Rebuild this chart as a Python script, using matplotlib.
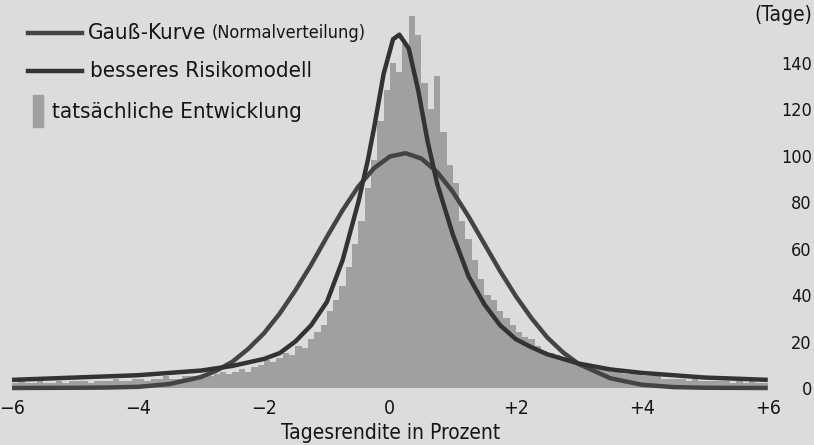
import numpy as np
import matplotlib
matplotlib.use("Agg")
import matplotlib.pyplot as plt
from matplotlib import font_manager as fm
from matplotlib.lines import Line2D
from matplotlib.patches import Rectangle

# narrow sans if there is one
names = {f.name for f in fm.fontManager.ttflist}
condensed = [f for f in fm.fontManager.ttflist
             if f.name == 'DejaVu Sans' and 'Condensed' in f.fname
             and 'Bold' not in f.fname and 'Oblique' not in f.fname]
if 'Liberation Sans Narrow' in names:
    plt.rcParams['font.family'] = ['Liberation Sans Narrow', 'DejaVu Sans']
elif condensed:
    plt.rcParams['font.family'] = ['DejaVu Sans']
    plt.rcParams['font.stretch'] = 'condensed'
else:
    plt.rcParams['font.family'] = ['Roboto', 'DejaVu Sans']

# histogram of daily returns: bins of 0.1 % from -6 to +6
bin_start = -6.0
bin_width = 0.1
tage = [
    2, 3, 2, 2, 3, 2, 2, 3, 2, 3,
    3, 3, 2, 3, 3, 3, 4, 3, 3, 4,
    4, 3, 4, 4, 5, 4, 4, 5, 5, 5,
    6, 5, 6, 7, 6, 7, 8, 7, 9, 10,
    12, 11, 13, 15, 14, 18, 17, 21, 24, 27,
    33, 38, 44, 52, 62, 72, 86, 98, 115, 128,
    140, 136, 148, 160, 152, 131, 120, 134, 110, 96,
    88, 72, 64, 55, 47, 40, 38, 33, 30, 27,
    24, 22, 21, 18, 16, 15, 14, 12, 12, 11,
    10, 9, 9, 8, 8, 7, 7, 6, 6, 6,
    5, 5, 5, 4, 4, 4, 4, 3, 4, 3,
    3, 3, 3, 3, 2, 3, 2, 3, 2, 2,
]

# Gauss curve
gauss_x = [-6, -5, -4.5, -4, -3.5, -3, -2.75, -2.5, -2.25, -2, -1.75, -1.5, -1.25, -1,
           -0.75, -0.5, -0.25, 0, 0.25, 0.5, 0.75, 1, 1.25, 1.5, 1.75, 2, 2.25,
           2.5, 2.75, 3, 3.5, 4, 4.5, 5, 6]
gauss_y = [0, 0.1, 0.2, 0.5, 1.7, 4.7, 7.5, 11.3, 16.8, 23.5, 32, 42, 53, 65,
           76.5, 86.7, 94.6, 99.6, 101, 98.7, 92.9, 84.4, 73.7, 62, 50.3, 39.5, 30,
           21.7, 15.3, 10.3, 4.2, 1.4, 0.4, 0.1, 0]

# better risk model (fat tails)
modell_x = [-6, -5.5, -5, -4.5, -4, -3.5, -3, -2.5, -2, -1.75, -1.5, -1.25, -1,
            -0.75, -0.5, -0.35, -0.25, -0.1, 0.05, 0.15, 0.3, 0.45, 0.6, 0.75,
            1, 1.25, 1.5, 1.75, 2, 2.25, 2.5, 3, 3.5, 4, 4.5, 5, 5.5, 6]
modell_y = [3.5, 4, 4.5, 5, 5.5, 6.5, 7.5, 9.5, 12.5, 15, 20, 27, 37,
            55, 80, 98, 112, 135, 150, 152, 146, 128, 106, 88,
            66, 48, 36, 27, 21, 17.5, 14.5, 10.5, 8, 6.5, 5.5, 4.5, 4, 3.5]

x_ticks = [-6, -4, -2, 0, 2, 4, 6]
x_labels = ['\u22126', '\u22124', '\u22122', '0', '+2', '+4', '+6']
y_ticks = [0, 20, 40, 60, 80, 100, 120, 140]

bg = '#dcdcdc'
hist_color = '#a0a0a0'
gauss_color = '#444444'
modell_color = '#333333'
text_color = '#151515'

W, H = 814, 445
fig = plt.figure(figsize=(W / 100, H / 100), dpi=100, facecolor=bg)
ax = fig.add_axes([0, (H - 392) / H, 781 / W, 392 / H])
ax.set_facecolor(bg)

edges = bin_start + bin_width * np.arange(len(tage))
ax.bar(edges, tage, width=bin_width, align='edge', color=hist_color, linewidth=0)
ax.plot(gauss_x, gauss_y, color=gauss_color, lw=3.2, solid_joinstyle='round',
        solid_capstyle='butt')
ax.plot(modell_x, modell_y, color=modell_color, lw=3.2, solid_joinstyle='round',
        solid_capstyle='butt')

ax.set_xlim(-6.19, 6.21)
ax.set_ylim(-1.72, 166.9)
for s in ax.spines.values():
    s.set_visible(False)

ax.set_xticks(x_ticks)
ax.set_xticklabels(x_labels, fontsize=14, color=text_color)
ax.tick_params(axis='x', length=0, pad=5)
ax.yaxis.tick_right()
ax.set_yticks(y_ticks)
ax.set_yticklabels([str(v) for v in y_ticks], fontsize=13, color=text_color)
ax.tick_params(axis='y', length=0, pad=22.3)
plt.setp(ax.get_yticklabels(), ha='right')

ax.set_xlabel('Tagesrendite in Prozent', fontsize=15, color=text_color, labelpad=3.5)

def fx(px):
    return px / W

def fy(py):
    return 1 - py / H

fig.text(fx(812), fy(15), '(Tage)', fontsize=15, color=text_color,
         ha='right', va='center')

# legend
fig.add_artist(Line2D([fx(28), fx(82)], [fy(33), fy(33)], color=gauss_color, lw=3.2))
t1 = fig.text(fx(88), fy(33), 'Gauß-Kurve', fontsize=16, color=text_color,
              ha='left', va='center')
ax.annotate('(Normalverteilung)', xy=(1, 0.5), xycoords=t1, xytext=(4, 0),
            textcoords='offset points', fontsize=13, color=text_color,
            ha='left', va='center')
fig.add_artist(Line2D([fx(28), fx(82)], [fy(71), fy(71)], color=modell_color, lw=3.2))
fig.text(fx(90), fy(71), 'besseres Risikomodell', fontsize=16, color=text_color,
         ha='left', va='center')
fig.add_artist(Rectangle((fx(33), fy(127)), fx(10), 32 / H, color=hist_color,
                         transform=fig.transFigure))
fig.text(fx(52), fy(112), 'tatsächliche Entwicklung', fontsize=16, color=text_color,
         ha='left', va='center')

fig.savefig('out.png', dpi=100, facecolor=bg)
